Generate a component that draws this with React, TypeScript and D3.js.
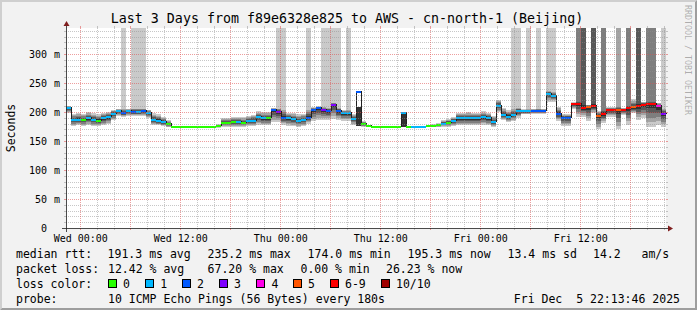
import React from "react";
import * as d3 from "d3";

const WIDTH = 697;
const HEIGHT = 310;

const TITLE = "Last 3 Days from f89e6328e825 to AWS - cn-north-1 (Beijing)";
const Y_UNIT_LABEL = "Seconds";
const WATERMARK = "RRDTOOL / TOBI OETIKER";

const END_TIME = Date.UTC(2025, 11, 5, 22, 13, 46);
const START_TIME = END_TIME - 3 * 24 * 3600 * 1000;
const FIRST_STEP = Date.UTC(2025, 11, 2, 22, 12, 0);
const STEP_MS = 36 * 60 * 1000;
const Y_MAX = 345;

// median rtt per 36-minute step (ms)
const MEDIAN = [
  207, 186, 187, 186, 189, 186, 185, 189, 191, 197,
  201, 198, 201, 200, 200, 201, 198, 186, 185, 182,
  179, 174.5, 174.5, 174.5, 174.5, 174.5, 174.5, 174.5, 174.5, 174.5,
  176, 181, 181, 182, 182, 181, 185, 185, 192, 189,
  189, 204, 200, 190, 189, 188, 184, 186, 190, 204,
  207, 204, 202, 213, 202, 198, 198, 188, 235, 179,
  175.5, 175, 175, 175, 175, 175, 175, 198, 175, 175,
  175, 175, 176, 176, 177, 180, 181, 184, 189, 189,
  189, 189, 189, 191.5, 189, 182, 211, 195, 192, 195,
  202, 201, 201, 202, 202, 202, 232, 228, 197, 190,
  190, 214, 214, 207, 209, 210, 194, 197, 204, 204,
  204, 204, 207, 208, 210, 213, 214, 214, 211, 197,
];

// lost pings (of 10) per step
const LOSS = [
  1, 1, 1, 0, 1, 1, 0, 1, 1, 1,
  1, 2, 1, 2, 1, 2, 1, 1, 1, 1,
  0, 0, 0, 0, 0, 0, 0, 0, 0, 0,
  0, 0, 0, 0, 1, 0, 1, 1, 1, 1,
  0, 2, 3, 2, 1, 1, 1, 1, 2, 2,
  2, 3, 2, 3, 2, 1, 1, 1, 2, 0,
  0, 0, 0, 0, 0, 0, 0, 1, 0, 1,
  1, 1, 0, 0, 0, 1, 0, 1, 1, 1,
  1, 1, 1, 1, 1, 1, 1, 1, 1, 1,
  1, 1, 1, 2, 2, 2, 1, 1, 2, 2,
  2, 7, 7, 7, 5, 7, 5, 7, 7, 7,
  5, 7, 7, 5, 7, 7, 7, 7, 4, 3,
];

// lowest ping of the smoke (ms)
const SMOKE_LO = [
  198, 176, 177, 176, 178, 176, 176, 177, 179, 186,
  193, 192, 194, 193, 193, 193, 190, 177, 177, 176,
  174, 174.5, 174.5, 174.5, 174.5, 174.5, 174.5, 174.5, 174.5, 174.5,
  173, 175, 175, 175, 175, 175, 176, 176, 178, 177,
  177, 182, 182, 178, 176, 176, 175, 176, 180, 184,
  186, 186, 186, 188, 186, 185, 185, 178, 176, 175,
  174, 175, 175, 175, 175, 175, 175, 175, 175, 175,
  175, 175, 174, 174, 174, 175, 175, 176, 177, 177,
  177, 177, 177, 178, 177, 175, 200, 186, 183, 185,
  190, 196, 196, 197, 197, 197, 218, 218, 185, 176,
  176, 205, 192, 192, 184, 198, 170, 181, 192, 192,
  170, 195, 178, 198, 187, 190, 175, 175, 178, 174,
];

// highest in-range ping of the smoke (ms)
const SMOKE_HI = [
  211, 197, 198, 197, 200, 198, 196, 199, 200, 204,
  206, 205, 206, 206, 206, 206, 204, 198, 196, 192,
  186, 174.5, 174.5, 174.5, 174.5, 174.5, 174.5, 174.5, 174.5, 174.5,
  179, 189, 190, 191, 192, 191, 194, 195, 201, 200,
  200, 207, 206, 203, 199, 198, 196, 197, 204, 208,
  210, 208, 207, 216, 207, 203, 203, 196, 209, 184,
  178, 175, 175, 175, 175, 175, 175, 199, 175, 175,
  175, 175, 178, 179, 181, 186, 188, 192, 199, 199,
  200, 199, 199, 201, 198, 194, 221, 207, 203, 205,
  207, 205, 205, 206, 206, 206, 236, 234, 209, 196,
  196, 217, 218, 212, 213, 214, 201, 202, 208, 208,
  208, 207, 210, 222, 214, 218, 218, 218, 216, 205,
];

// number of outer smoke layers that run past the top of the graph
const SMOKE_TOP = [
  0, 0, 0, 0, 0, 0, 0, 0, 0, 0,
  0, 1, 0, 1, 1, 1, 0, 0, 0, 0,
  0, 0, 0, 0, 0, 0, 0, 0, 0, 0,
  0, 0, 0, 0, 0, 0, 0, 0, 0, 0,
  0, 0, 1, 1, 0, 0, 0, 0, 1, 0,
  0, 1, 1, 1, 1, 0, 1, 0, 0, 0,
  0, 0, 0, 0, 0, 0, 0, 0, 0, 0,
  0, 0, 0, 0, 0, 0, 0, 0, 0, 0,
  0, 0, 0, 0, 0, 0, 0, 0, 0, 1,
  1, 0, 1, 0, 1, 0, 1, 1, 0, 0,
  0, 0, 3, 4, 0, 4, 0, 3, 0, 0,
  2, 0, 3, 0, 4, 0, 3, 3, 0, 1,
];

// steps where all pings sit in one tight cluster
const DENSE_STEPS = [58, 67];

const Y_TICKS = [0, 50, 100, 150, 200, 250, 300];
const Y_TICK_NUMBERS = ["0", "50", "100", "150", "200", "250", "300"];
const Y_TICK_UNITS = ["", "m", "m", "m", "m", "m", "m"];

const LOSS_LABELS = ["0", "1", "2", "3", "4", "5", "6-9", "10/10"];
const LOSS_COLORS = ["#26ff00", "#00b8ff", "#0059ff", "#7e00ff", "#ff00ea", "#ff5500", "#ff0000", "#a10000"];
const SMOKE_COLORS = ["#cacaca", "#a4a4a4", "#7e7e7e", "#585858", "#323232"];

const LEGEND_RTT = ["median rtt:", "191.3 ms avg", "235.2 ms max", "174.0 ms min", "195.3 ms now", "13.4 ms sd", "14.2", "am/s"];
const LEGEND_LOSS = ["packet loss:", "12.42 % avg", "67.20 % max", "0.00 % min", "26.23 % now"];
const LEGEND_PROBE = ["probe:", "10 ICMP Echo Pings (56 Bytes) every 180s"];
const STAMP = "Fri Dec  5 22:13:46 2025";

const RTT_X = [16, 107.6, 207.6, 307.6, 407.6, 507.6, 593, 641.5];
const LOSS_X = [16, 108, 207.6, 300.5, 386];
const SWATCH_X = [108, 145.3, 182, 219, 256.4, 293, 330, 381];

function lossBucket(l: number) {
  if (l >= 10) return 7;
  if (l >= 6) return 6;
  return l;
}

export default function App() {
  const X0 = 66, X1 = 666, Y0 = 228, Y1 = 28;
  const xs = d3.scaleUtc().domain([new Date(START_TIME), new Date(END_TIME)]).range([X0, X1]);
  const ys = d3.scaleLinear().domain([0, Y_MAX]).range([Y0, Y1]);
  const mono = "DejaVu Sans Mono, monospace";

  const blocks = MEDIAN.map((med, k) => {
    const xa = Math.round(Math.max(X0, xs(new Date(FIRST_STEP + k * STEP_MS))));
    const xb = Math.round(Math.min(X1, xs(new Date(FIRST_STEP + (k + 1) * STEP_MS))));
    return { k, xa, xb, med, loss: LOSS[k], lo: SMOKE_LO[k], hi: SMOKE_HI[k], top: SMOKE_TOP[k] };
  });

  const smoke: JSX.Element[] = [];
  blocks.forEach((b) => {
    const dense = DENSE_STEPS.includes(b.k);
    const c = Math.max(b.lo, Math.min(b.hi, b.med));
    for (let i = 0; i < 5; i++) {
      let l: number, u: number;
      if (dense) {
        l = b.lo; u = b.hi;
      } else {
        l = b.lo + ((c - b.lo) * i) / 5;
        u = i < b.top ? Y_MAX : b.hi - ((b.hi - c) * (i - b.top)) / (5 - b.top);
      }
      const ya = ys(u), yb = ys(l);
      if (yb - ya < 0.3) continue;
      smoke.push(
        <rect key={`s${b.k}-${i}`} x={b.xa} y={ya} width={b.xb - b.xa} height={yb - ya}
          fill={SMOKE_COLORS[i]} shapeRendering="crispEdges" />
      );
    }
  });

  const pts: [number, number][] = blocks.map((b) => [b.xa, b.med]);
  pts.push([blocks[blocks.length - 1].xb, blocks[blocks.length - 1].med]);
  const medLine = d3.line<[number, number]>()
    .x((d) => d[0] + 0.5)
    .y((d) => Math.round(ys(d[1])) - 0.5)
    .curve(d3.curveStepAfter)(pts) || "";

  const hours2 = d3.utcHour.every(2)!.range(new Date(START_TIME), new Date(END_TIME));
  const minorV = hours2.filter((t) => t.getUTCHours() % 6 !== 0);
  const majorV = hours2.filter((t) => t.getUTCHours() % 6 === 0);
  const labelV = hours2.filter((t) => t.getUTCHours() % 12 === 0);
  const fmt = d3.utcFormat("%a %H:%M");

  const minorH = d3.range(10, Y_MAX, 10).filter((v) => v % 50 !== 0);
  const majorH = d3.range(50, Y_MAX, 50);

  const gridMinor = "rgba(143,143,143,0.5)";
  const gridMajor = "rgba(222,79,79,0.55)";
  const vx = (t: Date) => Math.floor(xs(t)) + 0.5;
  const hy = (v: number) => Math.round(ys(v)) + 0.5;

  return (
    <svg width={WIDTH} height={HEIGHT} style={{ position: "absolute", left: 0, top: 0, display: "block" }}
      xmlns="http://www.w3.org/2000/svg">
      <rect x={0} y={0} width={WIDTH} height={HEIGHT} fill="#f2f2f2" />
      <polygon points={`0,${HEIGHT} 2,${HEIGHT - 2} 2,2 ${WIDTH - 2},2 ${WIDTH},0 0,0`} fill="#cfcfcf" />
      <polygon points={`2,${HEIGHT - 2} ${WIDTH - 2},${HEIGHT - 2} ${WIDTH - 2},2 ${WIDTH},0 ${WIDTH},${HEIGHT} 0,${HEIGHT}`} fill="#9e9e9e" />
      <rect x={X0} y={Y1} width={X1 - X0} height={Y0 - Y1} fill="#ffffff" />

      <text x={347} y={23} textAnchor="middle" fontFamily={mono} fontSize={13.3} fill="#000">{TITLE}</text>

      <g>{smoke}</g>
      <path d={medLine} fill="none" stroke="#202020" strokeWidth={1} shapeRendering="crispEdges" />
      <g>
        {blocks.map((b) => (
          <rect key={`m${b.k}`} x={b.xa} y={Math.round(ys(b.med)) - 1} width={b.xb - b.xa} height={2}
            fill={LOSS_COLORS[lossBucket(b.loss)]} shapeRendering="crispEdges" />
        ))}
      </g>

      <g shapeRendering="crispEdges">
        {minorV.map((t, i) => (
          <g key={`mv${i}`}>
            <line x1={vx(t)} x2={vx(t)} y1={Y1} y2={Y0} stroke={gridMinor} strokeDasharray="1,1" />
            <line x1={vx(t)} x2={vx(t)} y1={Y1 - 2} y2={Y1} stroke={gridMinor} />
            <line x1={vx(t)} x2={vx(t)} y1={Y0} y2={Y0 + 2} stroke={gridMinor} />
          </g>
        ))}
        {minorH.map((v, i) => (
          <g key={`mh${i}`}>
            <line x1={X0} x2={X1} y1={hy(v)} y2={hy(v)} stroke={gridMinor} strokeDasharray="1,1" />
            <line x1={X0 - 2} x2={X0} y1={hy(v)} y2={hy(v)} stroke={gridMinor} />
            <line x1={X1} x2={X1 + 2} y1={hy(v)} y2={hy(v)} stroke={gridMinor} />
          </g>
        ))}
        {majorV.map((t, i) => (
          <g key={`Mv${i}`}>
            <line x1={vx(t)} x2={vx(t)} y1={Y1} y2={Y0} stroke={gridMajor} strokeDasharray="1,1" />
            <line x1={vx(t)} x2={vx(t)} y1={Y1 - 2} y2={Y1} stroke={gridMajor} />
            <line x1={vx(t)} x2={vx(t)} y1={Y0} y2={Y0 + 2} stroke={gridMajor} />
          </g>
        ))}
        {majorH.map((v, i) => (
          <g key={`Mh${i}`}>
            <line x1={X0} x2={X1} y1={hy(v)} y2={hy(v)} stroke={gridMajor} strokeDasharray="1,1" />
            <line x1={X0 - 2} x2={X0} y1={hy(v)} y2={hy(v)} stroke={gridMajor} />
            <line x1={X1} x2={X1 + 2} y1={hy(v)} y2={hy(v)} stroke={gridMajor} />
          </g>
        ))}
      </g>

      {/* axes */}
      <g shapeRendering="crispEdges">
        <line x1={X0 - 4} x2={X1 + 4} y1={Y0 + 0.5} y2={Y0 + 0.5} stroke="#1f1f1f" strokeOpacity={0.8} />
        <line x1={X0 + 0.5} x2={X0 + 0.5} y1={Y0 + 4} y2={Y1 - 4} stroke="#1f1f1f" strokeOpacity={0.8} />
      </g>
      <polygon points={`${X1 + 2},${Y0 - 2.5} ${X1 + 2},${Y0 + 3.5} ${X1 + 7},${Y0 + 0.5}`} fill="#801f1f" />
      <polygon points={`${X0 - 2.5},${Y1 - 2} ${X0 + 3.5},${Y1 - 2} ${X0 + 0.5},${Y1 - 7}`} fill="#801f1f" />

      {/* axis labels */}
      <g fontFamily={mono} fontSize={10} fill="#000">
        {Y_TICKS.map((v, i) => (
          <g key={`yl${i}`}>
            <text x={47} y={ys(v) + 3.5} textAnchor="end">{Y_TICK_NUMBERS[i]}</text>
            {Y_TICK_UNITS[i] && <text x={60} y={ys(v) + 3.5} textAnchor="end">{Y_TICK_UNITS[i]}</text>}
          </g>
        ))}
        {labelV.map((t, i) => (
          <text key={`xl${i}`} x={xs(t)} y={242} textAnchor="middle">{fmt(t)}</text>
        ))}
      </g>

      <text transform="translate(15,128) rotate(-90)" textAnchor="middle" fontFamily={mono} fontSize={11.5} fill="#000">{Y_UNIT_LABEL}</text>
      <text transform="translate(685,60) rotate(90)" textAnchor="middle" fontFamily={mono} fontSize={8.3} fill="#000" fillOpacity={0.3}>{WATERMARK}</text>

      {/* legend */}
      <g fontFamily={mono} fontSize={11.5} fill="#000" style={{ whiteSpace: "pre" }}>
        {LEGEND_RTT.map((s, i) => (
          <text key={`r${i}`} x={RTT_X[i]} y={258}>{s}</text>
        ))}
        {LEGEND_LOSS.map((s, i) => (
          <text key={`l${i}`} x={LOSS_X[i]} y={273}>{s}</text>
        ))}
        <text x={16} y={288}>loss color:</text>
        {LOSS_LABELS.map((s, i) => (
          <g key={`c${i}`}>
            <rect x={SWATCH_X[i] + 0.5} y={279.5} width={8} height={8} fill={LOSS_COLORS[i]} stroke="#000" strokeWidth={1} shapeRendering="crispEdges" />
            <text x={SWATCH_X[i] + 15} y={288}>{s}</text>
          </g>
        ))}
        <text x={16} y={303}>{LEGEND_PROBE[0]}</text>
        <text x={108} y={303}>{LEGEND_PROBE[1]}</text>
        <text x={680} y={303} textAnchor="end" xmlSpace="preserve">{STAMP}</text>
      </g>
    </svg>
  );
}
